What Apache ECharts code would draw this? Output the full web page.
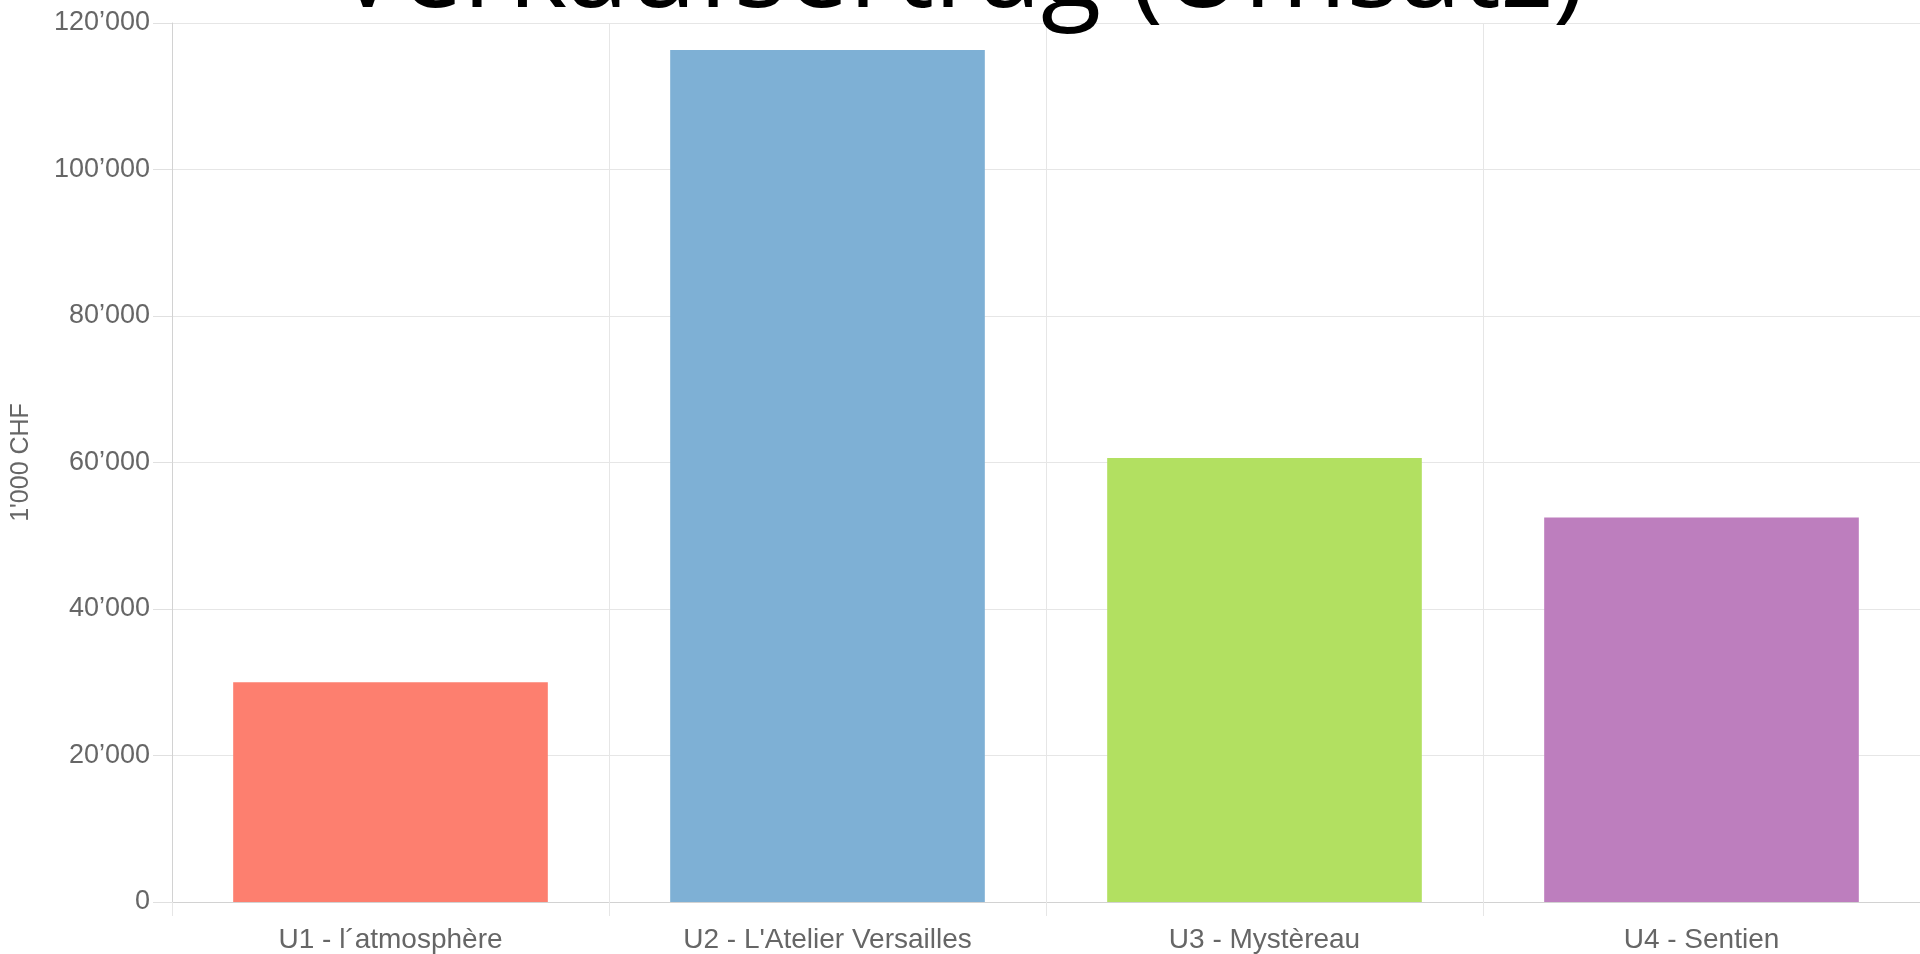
<!DOCTYPE html>
<html>
<head>
<meta charset="utf-8">
<script src="https://cdn.jsdelivr.net/npm/echarts@6/dist/echarts.min.js"></script>
<style>
html,body{margin:0;padding:0;background:#fff;}
#chart{width:1920px;height:954px;}
</style>
</head>
<body>
<div id="chart"></div>
<script>
const titleText = 'Verkaufsertrag (Umsatz)';
const categories = ['U1 - l\u00b4atmosphère', "U2 - L'Atelier Versailles", 'U3 - Mystèreau', 'U4 - Sentien'];
const values = [30000, 116300, 60600, 52500];
const barColors = ['#fd7f6f', '#7eb0d5', '#b2e061', '#bd7ebe'];
const yAxisName = "1'000 CHF";
const yMin = 0, yMax = 120000, yStep = 20000;

function fmt(v) {
  return String(v).replace(/\B(?=(\d{3})+(?!\d))/g, '\u2019');
}

const chart = echarts.init(document.getElementById('chart'));
chart.setOption({
  animation: false,
  backgroundColor: '#ffffff',
  title: {
    text: titleText,
    left: 'center',
    top: -80,
    padding: 0,
    textStyle: { fontFamily: 'Open Sans', fontSize: 111, fontWeight: 'normal', color: '#000' },
    z: 10
  },
  grid: { left: 172, right: 0, top: 23, bottom: 51, containLabel: false },
  xAxis: {
    type: 'category',
    data: categories,
    axisLine: { show: true, lineStyle: { color: '#d2d2d2', width: 1 } },
    axisTick: { show: true, length: 14, lineStyle: { color: '#e6e6e6' } },
    splitLine: { show: true, lineStyle: { color: '#e6e6e6', width: 1 } },
    axisLabel: { color: '#666', fontFamily: 'Liberation Sans, Arial', fontSize: 28, margin: 24 }
  },
  yAxis: {
    type: 'value',
    min: yMin, max: yMax, interval: yStep,
    name: yAxisName,
    nameLocation: 'middle',
    nameGap: 138,
    nameTextStyle: { color: '#666', fontFamily: 'Liberation Sans, Arial', fontSize: 25 },
    axisLine: { show: true, lineStyle: { color: '#d2d2d2', width: 1 } },
    axisTick: { show: true, length: 19, lineStyle: { color: '#e0e0e0' } },
    splitLine: { show: true, lineStyle: { color: '#e6e6e6', width: 1 } },
    axisLabel: { color: '#666', fontFamily: 'Liberation Sans, Arial', fontSize: 27, margin: 22, formatter: fmt }
  },
  series: [{
    type: 'bar',
    data: values.map((v, i) => ({ value: v, itemStyle: { color: barColors[i] } })),
    barCategoryGap: '28%'
  }]
});
</script>
</body>
</html>
